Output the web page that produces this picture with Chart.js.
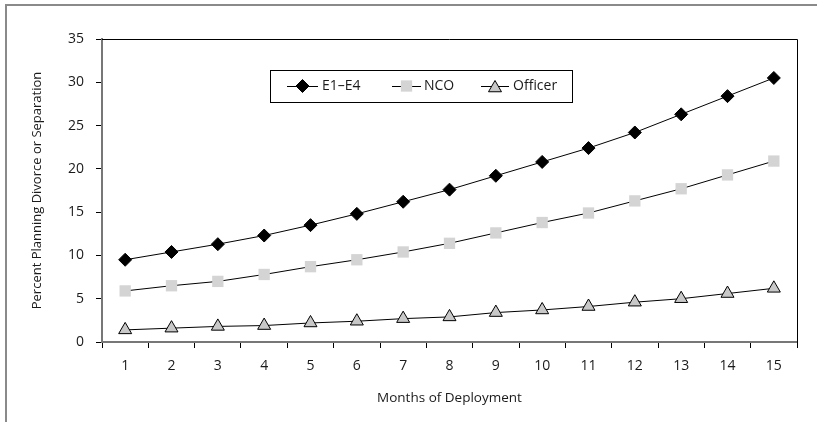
<!DOCTYPE html>
<html>
<head>
<meta charset="utf-8">
<script src="https://cdn.jsdelivr.net/npm/chart.js@4/dist/chart.umd.min.js"></script>
<style>
  html, body { margin: 0; padding: 0; background: #fff; }
  #wrap { position: relative; width: 817px; height: 422px; }
  #frame {
    position: absolute; left: 5px; top: 4px; width: 812px; height: 418px;
    border-top: 2px solid #8a8a8a; border-left: 2px solid #8a8a8a;
    box-sizing: border-box; pointer-events: none;
  }
  canvas { position: absolute; left: 0; top: 0; }
</style>
</head>
<body>
<div id="wrap">
  <canvas id="grafico" width="817" height="422"></canvas>
  <div id="frame"></div>
</div>
<script>
// Datos
const meses = ["1", "2", "3", "4", "5", "6", "7", "8", "9", "10", "11", "12", "13", "14", "15"];
const e1e4 = [9.5, 10.4, 11.3, 12.3, 13.5, 14.8, 16.2, 17.6, 19.2, 20.8, 22.4, 24.2, 26.3, 28.4, 30.5];
const nco = [5.9, 6.5, 7.0, 7.8, 8.7, 9.5, 10.4, 11.4, 12.6, 13.8, 14.9, 16.3, 17.7, 19.3, 20.9];
const officer = [1.4, 1.6, 1.8, 1.9, 2.2, 2.4, 2.7, 2.9, 3.4, 3.7, 4.1, 4.6, 5.0, 5.6, 6.2];

const FUENTE = "'Open Sans', 'DejaVu Sans', sans-serif";
const TEXTO = "#1a1a1a";

// Leyenda con línea + marcador, como en Excel
const leyendaPlugin = {
  id: "leyendaExcel",
  afterDraw(chart) {
    const ctx = chart.ctx;
    const y = 86;
    ctx.save();
    ctx.strokeStyle = "#000";
    ctx.lineWidth = 1;
    ctx.strokeRect(270.5, 70.5, 302, 32);

    const items = [
      { ds: 0, x1: 287, x2: 318, tx: 322 },
      { ds: 1, x1: 392, x2: 421, tx: 424 },
      { ds: 2, x1: 481, x2: 509, tx: 513 }
    ];
    items.forEach((it) => {
      const ds = chart.data.datasets[it.ds];
      ctx.strokeStyle = "#000";
      ctx.lineWidth = 1;
      ctx.beginPath();
      ctx.moveTo(it.x1, y + 0.5);
      ctx.lineTo(it.x2, y + 0.5);
      ctx.stroke();
      ctx.fillStyle = ds.pointBackgroundColor;
      ctx.strokeStyle = ds.pointBorderColor;
      ctx.lineWidth = ds.pointBorderWidth;
      Chart.helpers.drawPoint(ctx, {
        pointStyle: ds.pointStyle,
        radius: ds.pointRadius,
        rotation: 0,
        borderWidth: ds.pointBorderWidth
      }, (it.x1 + it.x2) / 2, ds.pointStyle === "triangle" ? y + 2 : y);
      ctx.fillStyle = TEXTO;
      ctx.font = "14px " + FUENTE;
      ctx.textBaseline = "middle";
      ctx.textAlign = "left";
      ctx.fillText(ds.label, it.tx, y);
    });
    ctx.restore();
  }
};

// Borde superior y derecho del área de trazado
const bordePlugin = {
  id: "bordeArea",
  beforeDatasetsDraw(chart) {
    const { ctx, chartArea } = chart;
    ctx.save();
    ctx.strokeStyle = "#000";
    ctx.lineWidth = 1;
    ctx.beginPath();
    ctx.moveTo(chartArea.left, chartArea.top + 0.5);
    ctx.lineTo(chartArea.right + 0.5, chartArea.top + 0.5);
    ctx.lineTo(chartArea.right + 0.5, chartArea.bottom + 6);
    ctx.stroke();
    ctx.restore();
  }
};

new Chart(document.getElementById("grafico"), {
  type: "line",
  data: {
    labels: meses,
    datasets: [
      {
        label: "E1–E4",
        data: e1e4,
        borderColor: "#000",
        borderWidth: 1,
        pointStyle: "rectRot",
        pointRadius: 6.5,
        pointBackgroundColor: "#000",
        pointBorderColor: "#000",
        pointBorderWidth: 1,
        tension: 0
      },
      {
        label: "NCO",
        data: nco,
        borderColor: "#000",
        borderWidth: 1,
        pointStyle: "rect",
        pointRadius: 8,
        pointBackgroundColor: "#d4d4d4",
        pointBorderColor: "#d4d4d4",
        pointBorderWidth: 0,
        tension: 0
      },
      {
        label: "Officer",
        data: officer,
        borderColor: "#000",
        borderWidth: 1,
        pointStyle: "triangle",
        pointRadius: 7.5,
        pointBackgroundColor: "#c8c8c8",
        pointBorderColor: "#000",
        pointBorderWidth: 1,
        tension: 0
      }
    ]
  },
  options: {
    responsive: false,
    animation: false,
    layout: { padding: { top: 39, right: 20, bottom: 10, left: 0 } },
    plugins: {
      legend: { display: false },
      tooltip: { enabled: false }
    },
    scales: {
      x: {
        offset: true,
        grid: {
          offset: true,
          drawOnChartArea: false,
          drawTicks: true,
          tickLength: 6,
          color: "#000"
        },
        border: { display: true, color: "#777", width: 2 },
        ticks: { color: TEXTO, font: { family: FUENTE, size: 14 }, padding: 10, maxRotation: 0 },
        title: {
          display: true,
          text: "Months of Deployment",
          color: TEXTO,
          font: { family: FUENTE, size: 13.5 },
          padding: { top: 6, bottom: 6 }
        },
        afterFit(scale) { scale.height = 70; }
      },
      y: {
        min: 0,
        max: 35,
        grid: {
          drawOnChartArea: false,
          drawTicks: true,
          tickLength: 6,
          color: "#000"
        },
        border: { display: true, color: "#777", width: 2 },
        ticks: { stepSize: 5, color: TEXTO, font: { family: FUENTE, size: 14 }, padding: 12 },
        title: {
          display: true,
          text: "Percent Planning Divorce or Separation",
          color: TEXTO,
          font: { family: FUENTE, size: 13 },
          padding: { top: 29, bottom: 0 }
        },
        afterFit(scale) { scale.width = 102; }
      }
    }
  },
  plugins: [bordePlugin, leyendaPlugin]
});
</script>
</body>
</html>
